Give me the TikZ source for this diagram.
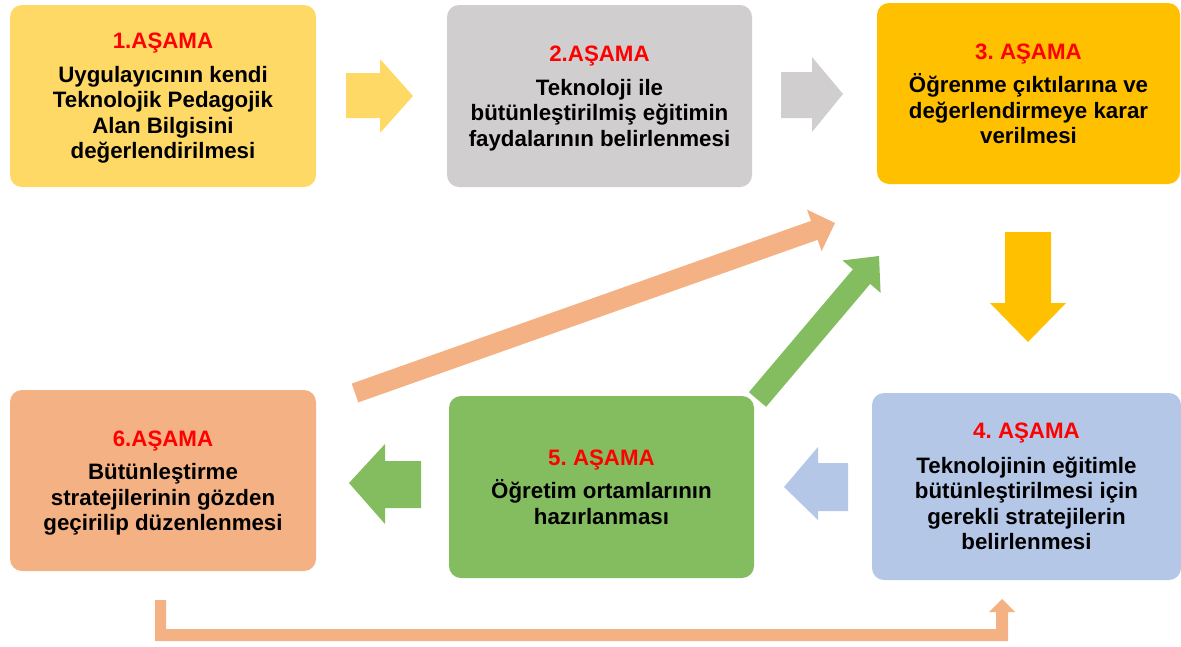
\documentclass[tikz,border=0pt]{standalone}
\usepackage{fontspec}
\setmainfont{Liberation Sans}
\frenchspacing
\definecolor{cYel}{HTML}{FFD966}
\definecolor{cGray}{HTML}{D0CECE}
\definecolor{cGold}{HTML}{FFC000}
\definecolor{cBlue}{HTML}{B4C7E7}
\definecolor{cGreen}{HTML}{84BD60}
\definecolor{cOrange}{HTML}{F4B183}
\definecolor{cRed}{HTML}{FF0000}
\begin{document}
\begin{tikzpicture}[x=1pt,y=-1pt,
  stagebox/.style={rounded corners=12pt, inner sep=0pt, align=center, text depth=0pt,
    font=\fontsize{22.3}{25.5}\selectfont\bfseries\frenchspacing, text=black},
  blockarrow/.style={draw=none}]
\path[use as bounding box, fill=white] (0,0) rectangle (1181,646);

% stage boxes
\node[stagebox, fill=cYel, minimum width=306pt, minimum height=182pt] (s1) at (163,96)
  {\textcolor{cRed}{1.AŞAMA}\\[8pt]Uygulayıcının kendi\\Teknolojik Pedagojik\\Alan Bilgisini\\değerlendirilmesi};
\node[stagebox, fill=cGray, minimum width=305pt, minimum height=182pt] (s2) at (599.5,96)
  {\textcolor{cRed}{2.AŞAMA}\\[8pt]Teknoloji ile\\bütünleştirilmiş eğitimin\\faydalarının belirlenmesi};
\node[stagebox, fill=cGold, minimum width=303pt, minimum height=181pt] (s3) at (1028.5,93.5)
  {\textcolor{cRed}{3. AŞAMA}\\[8pt]Öğrenme çıktılarına ve\\değerlendirmeye karar\\verilmesi};
\node[stagebox, fill=cBlue, minimum width=309pt, minimum height=187pt] (s4) at (1026.5,486.5)
  {\textcolor{cRed}{4. AŞAMA}\\[9pt]Teknolojinin eğitimle\\bütünleştirilmesi için\\gerekli stratejilerin\\belirlenmesi};
\node[stagebox, fill=cGreen, minimum width=305pt, minimum height=182pt] (s5) at (601.5,487)
  {\textcolor{cRed}{5. AŞAMA}\\[8pt]Öğretim ortamlarının\\hazırlanması};
\node[stagebox, fill=cOrange, minimum width=306pt, minimum height=181pt] (s6) at (163,480.5)
  {\textcolor{cRed}{6.AŞAMA}\\[8pt]Bütünleştirme\\stratejilerinin gözden\\geçirilip düzenlenmesi};

% block arrows
% 1 -> 2
\fill[blockarrow, cYel] (346,73) -- (380,73) -- (380,59) -- (413,96) -- (380,133) -- (380,118) -- (346,118) -- cycle;
% 2 -> 3
\fill[blockarrow, cGray] (781,72) -- (812,72) -- (812,57) -- (843,94) -- (812,132) -- (812,118) -- (781,118) -- cycle;
% 3 -> 4
\fill[blockarrow, cGold] (1005,232) -- (1051,232) -- (1051,303) -- (1066,303) -- (1028,342) -- (990,303) -- (1005,303) -- cycle;
% 4 -> 5
\fill[blockarrow, cBlue] (848,463) -- (818,463) -- (818,447) -- (784,487) -- (818,520) -- (818,511) -- (848,511) -- cycle;
% 5 -> 6
\fill[blockarrow, cGreen] (421,461) -- (385,461) -- (385,444) -- (349,483) -- (385,524) -- (385,508) -- (421,508) -- cycle;
% 6 -> 3 (diagonal)
\fill[blockarrow, cOrange] (351.7,383.6) -- (811.0,220.9) -- (807.0,209.6) -- (835,223) -- (821.6,251.1) -- (817.6,239.8) -- (358.3,402.4) -- cycle;
% 5 -> 3 (diagonal)
\fill[blockarrow, cGreen] (748.9,392.2) -- (852.9,269.3) -- (842.5,260.4) -- (879,256) -- (880.6,292.8) -- (870.2,283.9) -- (766.1,406.8) -- cycle;
% 6 -> 4 (bottom bracket)
\fill[blockarrow, cOrange] (155,600) -- (166,600) -- (166,629) -- (996,629) -- (996,612) -- (989,612) -- (1002,599) -- (1015,612) -- (1008,612) -- (1008,641) -- (155,641) -- cycle;
\end{tikzpicture}
\end{document}
